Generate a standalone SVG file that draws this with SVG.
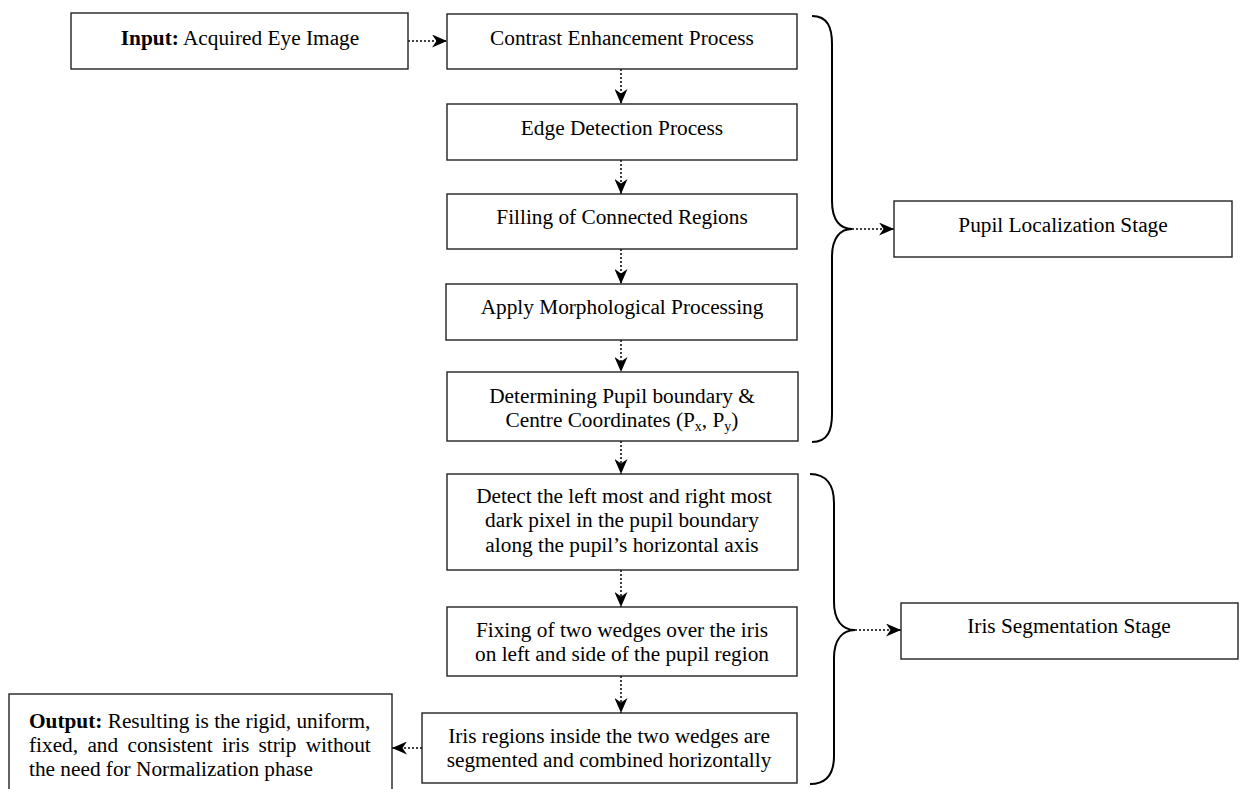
<svg xmlns="http://www.w3.org/2000/svg" width="1241" height="789" viewBox="0 0 1241 789">
<style>
  .box { fill: #ffffff; stroke: #222222; stroke-width: 1.4; }
  .t { font-family: "Liberation Serif", "Times New Roman", serif; font-size: 21.3px; fill: #000000; }
  .c { text-anchor: middle; }
  .b { font-weight: bold; }
  .sub { font-size: 14px; }
  .conn { fill: none; stroke: #000000; stroke-width: 1.5; stroke-dasharray: 2 2; }
  .brace { fill: none; stroke: #000000; stroke-width: 2; }
</style>
<defs>
  <marker id="arr" markerUnits="userSpaceOnUse" viewBox="0 0 15 13" refX="15" refY="6.5" markerWidth="15" markerHeight="13" orient="auto">
    <path d="M0,0 L15,6.5 L0,13 L4.5,6.5 Z" fill="#000000"/>
  </marker>
</defs>
<rect width="1241" height="789" fill="#ffffff"/>

<g id="connectors">
  <line class="conn" x1="408" y1="41" x2="447" y2="41" marker-end="url(#arr)"/>
  <line class="conn" x1="621" y1="69" x2="621" y2="104" marker-end="url(#arr)"/>
  <line class="conn" x1="621" y1="160" x2="621" y2="194" marker-end="url(#arr)"/>
  <line class="conn" x1="621" y1="249" x2="621" y2="284" marker-end="url(#arr)"/>
  <line class="conn" x1="621" y1="340" x2="621" y2="372" marker-end="url(#arr)"/>
  <line class="conn" x1="621" y1="441" x2="621" y2="474" marker-end="url(#arr)"/>
  <line class="conn" x1="621" y1="570" x2="621" y2="607" marker-end="url(#arr)"/>
  <line class="conn" x1="621" y1="676" x2="621" y2="713" marker-end="url(#arr)"/>
  <line class="conn" x1="852" y1="229" x2="894" y2="229" marker-end="url(#arr)"/>
  <line class="conn" x1="855" y1="630" x2="901" y2="630" marker-end="url(#arr)"/>
  <line class="conn" x1="422" y1="748" x2="392" y2="748" marker-end="url(#arr)"/>
</g>

<g id="braces">
  <path class="brace" d="M812,16 C828,16 832,28 832,44 L832,201 C832,220 840,229 852,229 C840,229 832,238 832,257 L832,414 C832,430 828,442 812,442"/>
  <path class="brace" d="M810,474 C827,474 834,486 834,503 L834,602 C834,620 842,630 855,630 C842,630 834,640 834,658 L834,756 C834,773 827,784 810,784"/>
</g>

<g id="input">
  <rect class="box" x="71" y="13" width="337" height="56"/>
  <text class="t c" x="240" y="45"><tspan class="b">Input:</tspan> Acquired Eye Image</text>
</g>

<g id="contrast">
  <rect class="box" x="447" y="14" width="350" height="55"/>
  <text class="t c" x="622" y="45">Contrast Enhancement Process</text>
</g>

<g id="edge">
  <rect class="box" x="447" y="104" width="350" height="56"/>
  <text class="t c" x="622" y="135">Edge Detection Process</text>
</g>

<g id="filling">
  <rect class="box" x="447" y="194" width="350" height="55"/>
  <text class="t c" x="622" y="224">Filling of Connected Regions</text>
</g>

<g id="morph">
  <rect class="box" x="446" y="284" width="351" height="56"/>
  <text class="t c" x="622" y="314">Apply Morphological Processing</text>
</g>

<g id="determining">
  <rect class="box" x="447" y="372" width="351" height="69"/>
  <text class="t c" x="622" y="403">Determining Pupil boundary &amp;</text>
  <text class="t c" x="622" y="427">Centre Coordinates (P<tspan class="sub" dy="4">x</tspan><tspan dy="-4">, P</tspan><tspan class="sub" dy="4">y</tspan><tspan dy="-4">)</tspan></text>
</g>

<g id="detect">
  <rect class="box" x="447" y="474" width="351" height="96"/>
  <text class="t c" x="624" y="503">Detect the left most and right most</text>
  <text class="t c" x="622" y="527">dark pixel in the pupil boundary</text>
  <text class="t c" x="622" y="552">along the pupil’s horizontal axis</text>
</g>

<g id="fixing">
  <rect class="box" x="447" y="607" width="350" height="69"/>
  <text class="t c" x="622" y="637">Fixing of two wedges over the iris</text>
  <text class="t c" x="622" y="661">on left and side of the pupil region</text>
</g>

<g id="irisregions">
  <rect class="box" x="422" y="713" width="375" height="70"/>
  <text class="t c" x="609" y="743">Iris regions inside the two wedges are</text>
  <text class="t c" x="609" y="767">segmented and combined horizontally</text>
</g>

<g id="output">
  <rect class="box" x="9" y="694" width="383" height="110"/>
  <text class="t" x="29" y="728"><tspan class="b">Output:</tspan> Resulting is the rigid, uniform,</text>
  <text class="t" x="29" y="752" word-spacing="4">fixed, and consistent iris strip without</text>
  <text class="t" x="29" y="776">the need for Normalization phase</text>
</g>

<g id="pupilstage">
  <rect class="box" x="894" y="201" width="338" height="56"/>
  <text class="t c" x="1063" y="232">Pupil Localization Stage</text>
</g>

<g id="irisstage">
  <rect class="box" x="901" y="603" width="337" height="56"/>
  <text class="t c" x="1069" y="633">Iris Segmentation Stage</text>
</g>
</svg>
